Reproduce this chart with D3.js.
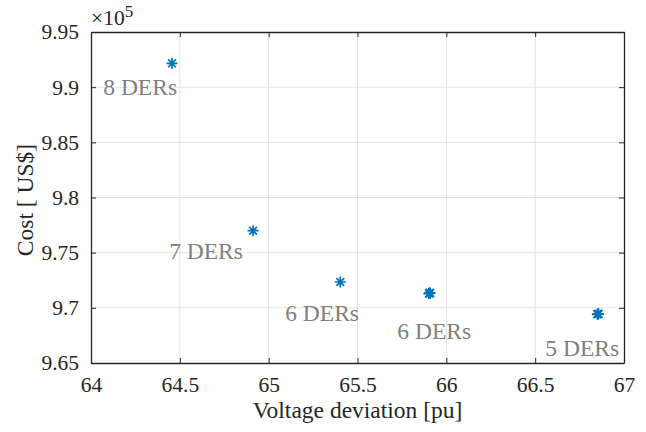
<!DOCTYPE html>
<html>
<head>
  <meta charset="utf-8">
  <title>Cost vs Voltage deviation</title>
  <script src="https://d3js.org/d3.v7.min.js"></script>
</head>
<style>
  body { margin: 0; background: white; }
  svg, svg text { font-family: "Liberation Serif", "Times New Roman", serif; }
  .grid line { stroke: #e3e3e3; stroke-width: 1; }
</style>
<body>
</body>
<script>

  // solutions: voltage deviation [pu] and cost [US$]
  var voltDev = [64.456, 64.912, 65.403, 65.902, 65.906, 65.909, 66.850, 66.853, 66.857];
  var cost = [992160, 976990, 972340, 971290, 971360, 971320, 969410, 969460, 969430];

  // annotations (data units: left edge, baseline)
  var labelText = ['8 DERs', '7 DERs', '6 DERs', '6 DERs', '5 DERs'];
  var labelX = [64.069, 64.44, 65.093, 65.724, 66.557];
  var labelY = [989290, 974430, 968810, 967170, 965630];

  var xTicks = [64, 64.5, 65, 65.5, 66, 66.5, 67];
  var yTicks = [9.65, 9.7, 9.75, 9.8, 9.85, 9.9, 9.95];

  var margin = {top: 32, right: 22, bottom: 69, left: 91}
    , width = 646 - margin.left - margin.right
    , height = 432 - margin.top - margin.bottom;

  var xScale = d3.scaleLinear()
    .domain([64, 67])
    .range([0, width]);

  var yScale = d3.scaleLinear()
    .domain([9.65, 9.95])
    .range([height, 0]);

  var svg = d3.select('body').append('svg')
    .attr('width', 646)
    .attr('height', 432)
    .append('g')
      .attr('transform', 'translate(' + margin.left + ',' + margin.top + ')');

  // grid
  var grid = svg.append('g').attr('class', 'grid');
  grid.selectAll('.gx')
    .data(xTicks.slice(1, -1))
    .enter().append('line')
      .attr('x1', d => xScale(d)).attr('x2', d => xScale(d))
      .attr('y1', 0).attr('y2', height);
  grid.selectAll('.gy')
    .data(yTicks.slice(1, -1))
    .enter().append('line')
      .attr('y1', d => yScale(d)).attr('y2', d => yScale(d))
      .attr('x1', 0).attr('x2', width);

  // axes, ticks inside on all four sides
  function styleAxis(g) {
    g.attr('font-family', 'Liberation Serif').attr('font-size', 21.5);
    g.select('.domain').attr('stroke', '#262626').attr('stroke-width', 1.3);
    g.selectAll('.tick line').attr('stroke', '#262626').attr('stroke-width', 1);
    g.selectAll('.tick text').attr('fill', '#262626');
  }

  svg.append('g')
    .attr('transform', 'translate(0,' + height + ')')
    .call(d3.axisBottom(xScale).tickValues(xTicks).tickFormat(d3.format('')).tickSizeInner(-5).tickSizeOuter(0).tickPadding(14))
    .call(styleAxis);

  svg.append('g')
    .call(d3.axisTop(xScale).tickValues(xTicks).tickSizeInner(-5).tickSizeOuter(0).tickFormat(''))
    .call(styleAxis);

  svg.append('g')
    .call(d3.axisLeft(yScale).tickValues(yTicks).tickFormat(d3.format('')).tickSizeInner(-5).tickSizeOuter(0).tickPadding(12))
    .call(styleAxis);

  svg.append('g')
    .attr('transform', 'translate(' + width + ',0)')
    .call(d3.axisRight(yScale).tickValues(yTicks).tickSizeInner(-5).tickSizeOuter(0).tickFormat(''))
    .call(styleAxis);

  // exponent
  var expo = svg.append('text')
    .attr('x', 0)
    .attr('y', -7)
    .attr('fill', '#262626')
    .style('font-size', '21.5px');
  expo.append('tspan').text('\u00d710');
  expo.append('tspan').attr('dy', -8).style('font-size', '17px').text('5');

  // axis titles
  svg.append('text')
    .attr('x', width / 2)
    .attr('y', height + 55)
    .attr('text-anchor', 'middle')
    .attr('fill', '#262626')
    .style('font-size', '23.5px')
    .text('Voltage deviation [pu]');

  svg.append('text')
    .attr('transform', 'rotate(-90)')
    .attr('x', -168)
    .attr('y', -58)
    .attr('text-anchor', 'middle')
    .attr('fill', '#262626')
    .style('font-size', '23.5px')
    .text('Cost [ US$]');

  // asterisk markers
  var star = 'M-5.5,0L5.5,0M0,-5.5L0,5.5M-3.9,-3.9L3.9,3.9M-3.9,3.9L3.9,-3.9';
  svg.selectAll('.pt')
    .data(voltDev)
    .enter().append('path')
      .attr('class', 'pt')
      .attr('transform', (d, i) => 'translate(' + xScale(d) + ',' + yScale(cost[i] / 1e5) + ')')
      .attr('d', star)
      .attr('stroke', '#0072BD')
      .attr('stroke-width', 1.7)
      .attr('fill', 'none');

  // annotations
  svg.selectAll('.lbl')
    .data(labelText)
    .enter().append('text')
      .attr('class', 'lbl')
      .attr('x', (d, i) => xScale(labelX[i]))
      .attr('y', (d, i) => yScale(labelY[i] / 1e5))
      .attr('fill', '#808080')
      .style('font-size', '23.5px')
      .text(d => d);

</script>
</html>
